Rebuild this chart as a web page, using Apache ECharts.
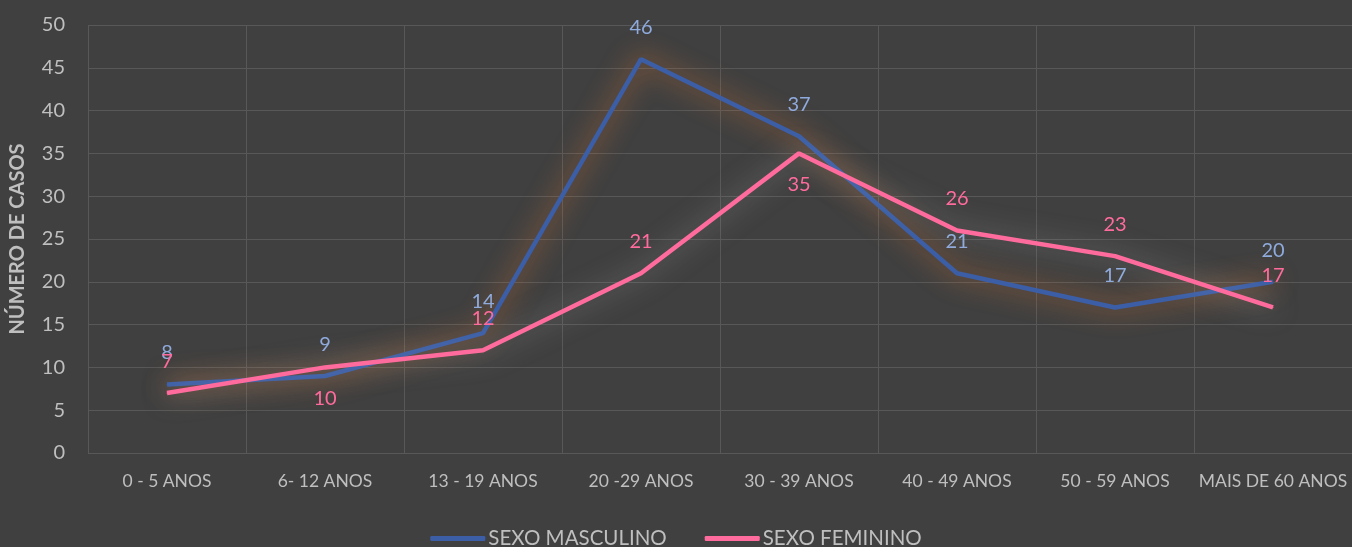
<!DOCTYPE html>
<html>
<head>
<meta charset="utf-8">
<script src="https://cdn.jsdelivr.net/npm/echarts@6/dist/echarts.min.js"></script>
<style>
  html, body { margin: 0; padding: 0; background: #404040; }
  #chart { width: 1352px; height: 547px; }
</style>
</head>
<body>
<div id="chart"></div>
<script>
var categories = ['0 - 5 ANOS', '6- 12 ANOS', '13 - 19 ANOS', '20 -29 ANOS', '30 - 39 ANOS', '40 - 49 ANOS', '50 - 59 ANOS', 'MAIS DE 60 ANOS'];
var masculino = [8, 9, 14, 46, 37, 21, 17, 20];
var feminino = [7, 10, 12, 21, 35, 26, 23, 17];

var font = 'Lato, "Open Sans", sans-serif';
var gridColor = '#585858';
var blue = '#3b5ea6';
var pink = '#ff6b9d';

// pink labels that sit under the point
var femBelow = [1, 4];

var femData = feminino.map(function (v, i) {
  if (femBelow.indexOf(i) >= 0) {
    return { value: v, label: { position: 'bottom' } };
  }
  return v;
});

var chart = echarts.init(document.getElementById('chart'));
chart.setOption({
  backgroundColor: '#404040',
  animation: false,
  grid: { left: 88, right: 0, top: 25, bottom: 94, outerBoundsMode: 'none', containLabel: false },
  legend: {
    bottom: -7,
    left: 'center',
    itemWidth: 55,
    itemHeight: 5,
    itemGap: 38,
    icon: 'roundRect',
    textStyle: { color: '#bfbfbf', fontSize: 20.5, fontFamily: font, padding: [0, 0, 0, -2] },
    data: [
      { name: 'SEXO MASCULINO', itemStyle: { color: blue } },
      { name: 'SEXO FEMININO', itemStyle: { color: pink } }
    ]
  },
  xAxis: {
    type: 'category',
    data: categories,
    boundaryGap: true,
    axisLine: { show: false },
    axisTick: { show: false },
    axisLabel: { color: '#bfbfbf', fontSize: 17.5, fontFamily: font, margin: 19, interval: 0 },
    splitLine: { show: true, interval: 0, lineStyle: { color: gridColor, width: 1 } }
  },
  yAxis: {
    type: 'value',
    min: 0,
    max: 50,
    interval: 5,
    name: 'NÚMERO DE CASOS',
    nameLocation: 'middle',
    nameGap: 60,
    nameTextStyle: { color: '#bfbfbf', fontSize: 20, fontWeight: 'bold', fontFamily: font },
    axisLine: { show: false },
    axisTick: { show: false },
    axisLabel: { color: '#bfbfbf', fontSize: 20, fontFamily: font, margin: 23 },
    splitLine: { lineStyle: { color: gridColor, width: 1 } }
  },
  series: [
    {
      name: 'SEXO MASCULINO',
      type: 'line',
      data: masculino,
      symbol: 'circle',
      symbolSize: 1,
      showSymbol: true,
      color: blue,
      itemStyle: { color: blue },
      lineStyle: {
        width: 4.5,
        color: blue,
        shadowColor: 'rgba(237,125,49,0.9)',
        shadowBlur: 26
      },
      label: {
        show: true,
        position: 'top',
        distance: 21,
        color: '#8faadc',
        fontSize: 20,
        fontFamily: font
      },
      z: 2
    },
    {
      name: 'SEXO FEMININO',
      type: 'line',
      data: femData,
      symbol: 'circle',
      symbolSize: 1,
      showSymbol: true,
      color: pink,
      itemStyle: { color: pink },
      lineStyle: {
        width: 4.5,
        color: pink,
        shadowColor: 'rgba(210,210,210,0.5)',
        shadowBlur: 26
      },
      label: {
        show: true,
        position: 'top',
        distance: 21,
        color: pink,
        fontSize: 20,
        fontFamily: font
      },
      z: 3
    }
  ]
});
</script>
</body>
</html>
